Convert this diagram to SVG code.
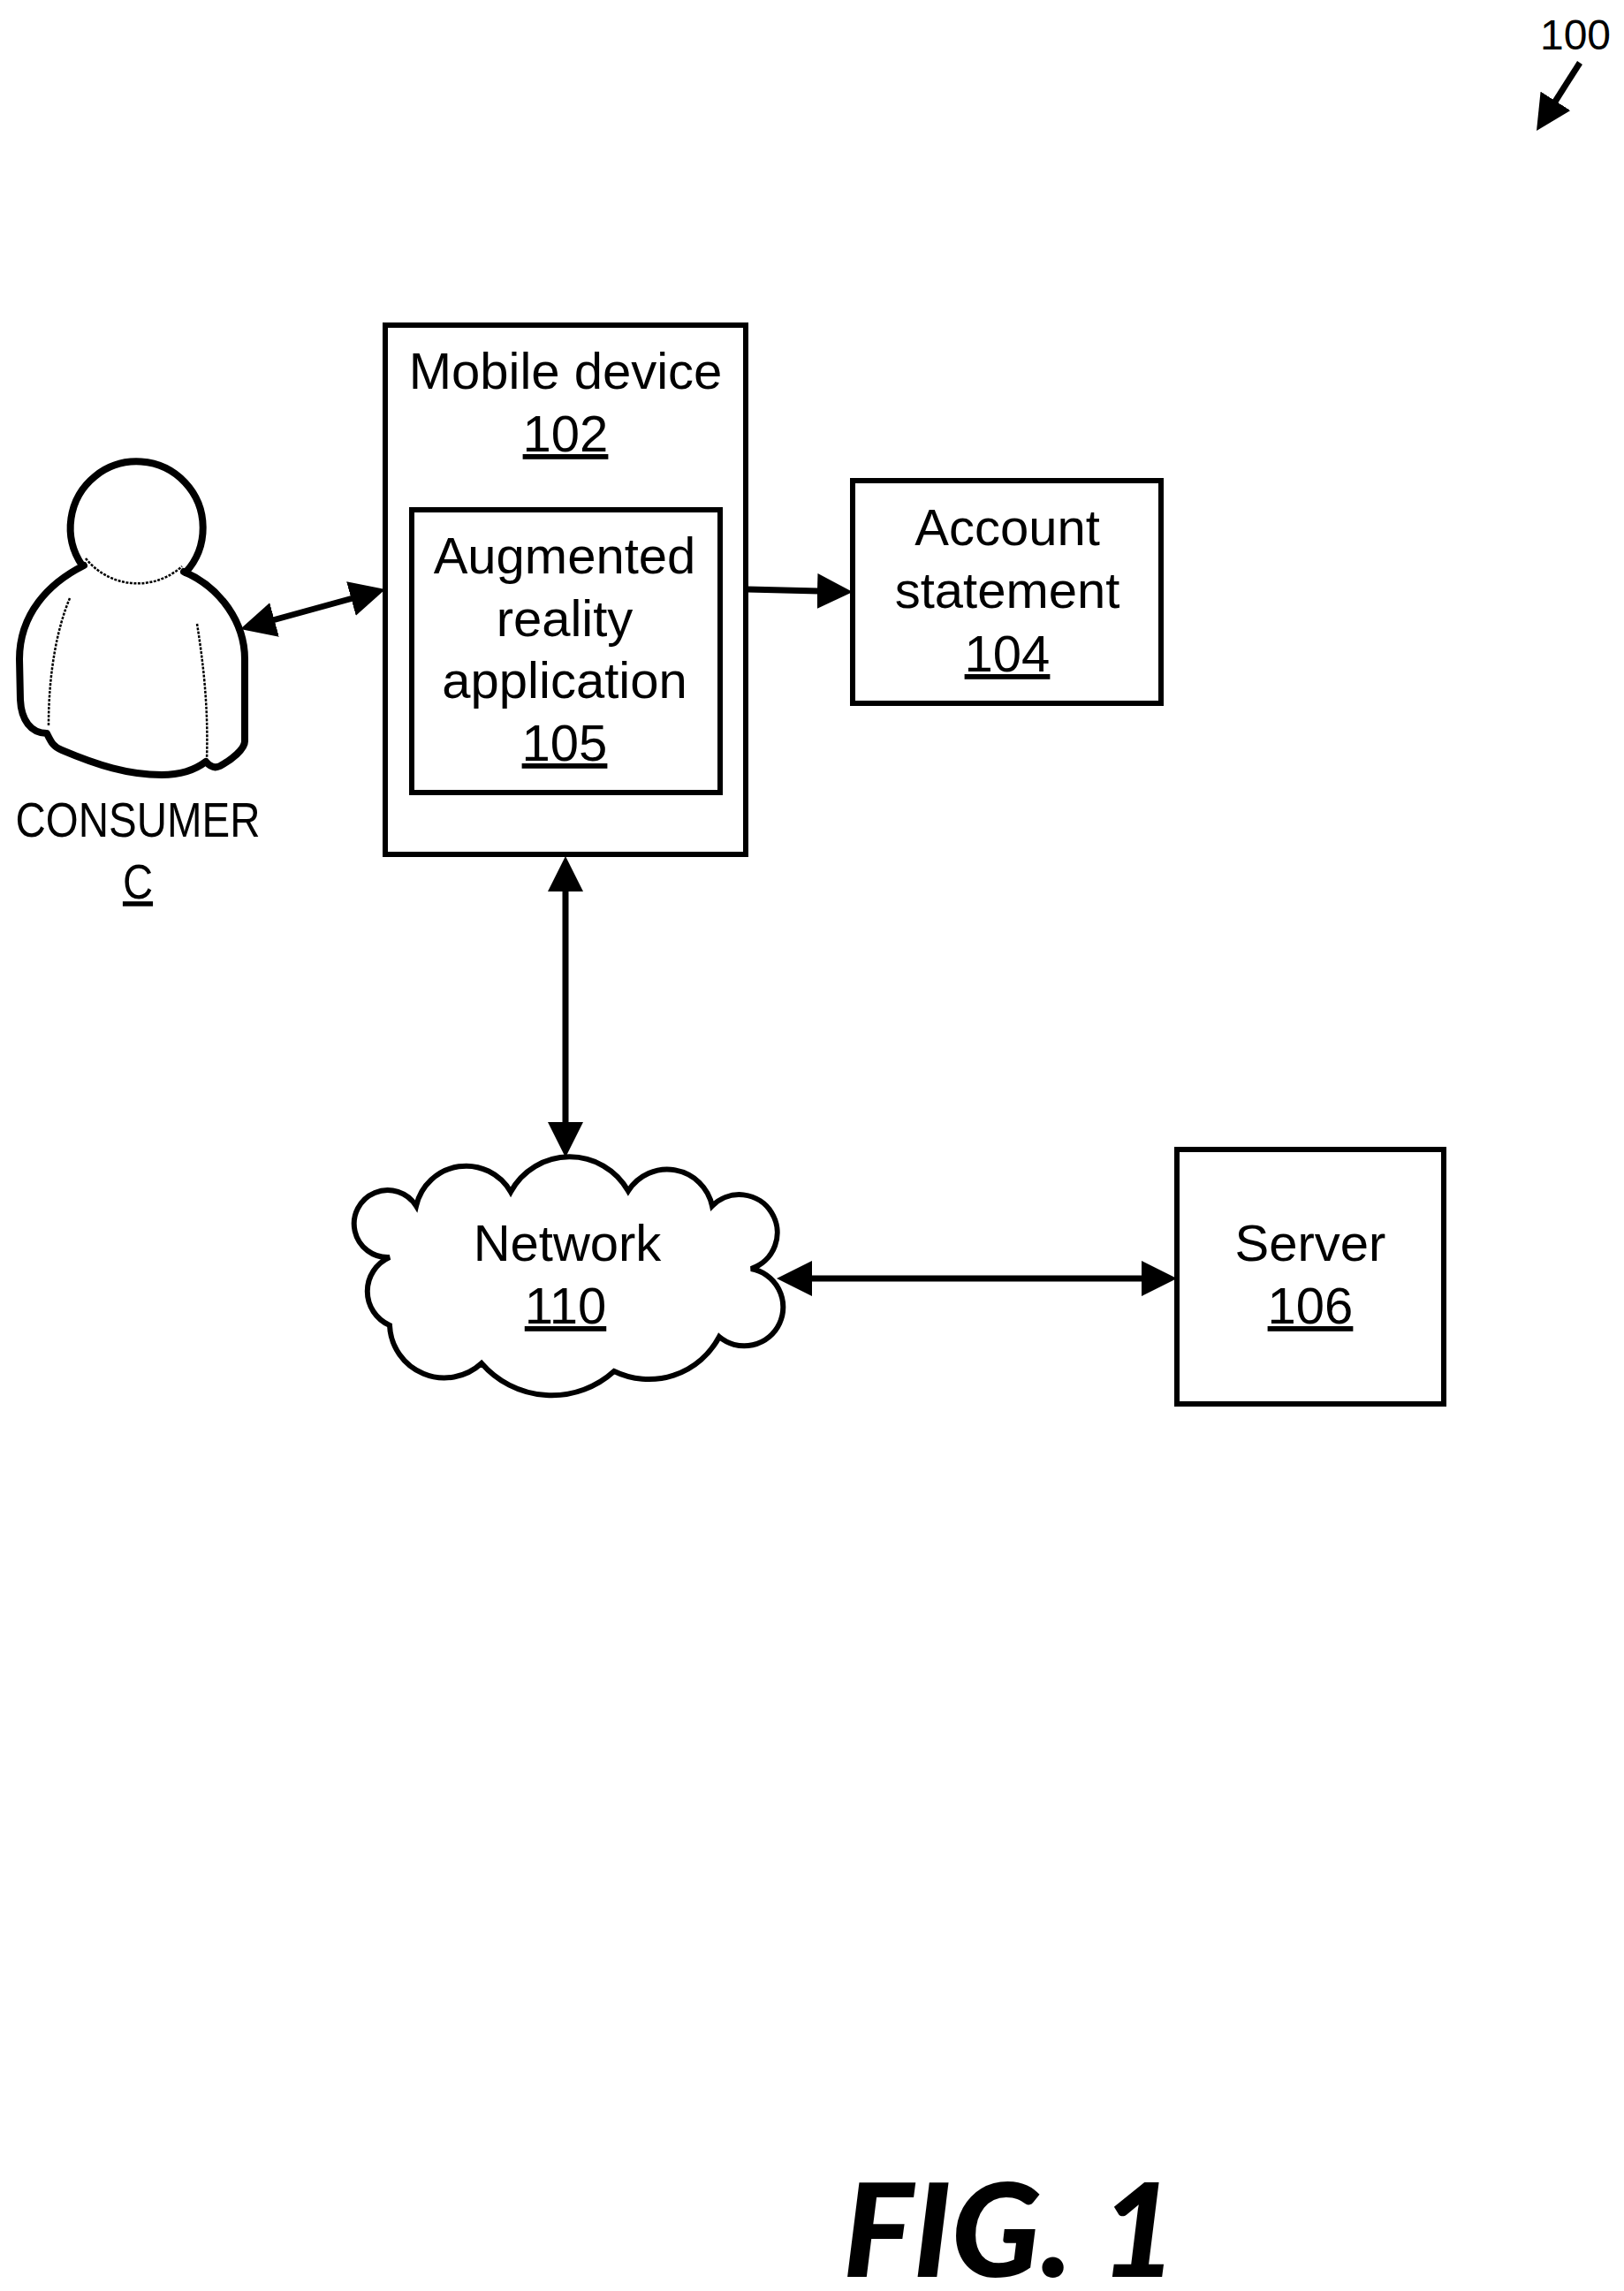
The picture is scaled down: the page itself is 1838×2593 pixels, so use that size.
<svg xmlns="http://www.w3.org/2000/svg" width="1838" height="2593" viewBox="0 0 1838 2593">
<style>
text{font-family:"Liberation Sans",Arial,sans-serif;font-size:58px;fill:#000;text-anchor:middle}
.u{text-decoration:underline}
.box{fill:#fff;stroke:#000;stroke-width:6}
.thick{fill:none;stroke:#000;stroke-width:8;stroke-linejoin:round;stroke-linecap:round}
.thin{fill:none;stroke:#000;stroke-width:2.5;stroke-dasharray:3 1.5}
.conn{fill:none;stroke:#000;stroke-width:7}
.fig{font-family:"Lato","Open Sans",sans-serif;font-weight:900;font-style:italic;font-size:146px}
</style>
<defs>
<marker id="ah" markerUnits="userSpaceOnUse" viewBox="0 0 40 40" markerWidth="40" markerHeight="40" refX="2" refY="20" orient="auto-start-reverse"><path d="M0 0L40 20L0 40z" fill="#000"/></marker>
</defs>
<rect width="1838" height="2593" fill="#fff"/>
<g id="connectors">
<line class="conn" x1="308.600" y1="702" x2="399.400" y2="677" marker-start="url(#ah)" marker-end="url(#ah)"/>
<line class="conn" x1="846" y1="667" x2="927" y2="669" marker-end="url(#ah)"/>
<line class="conn" x1="640" y1="1007" x2="640" y2="1272" marker-start="url(#ah)" marker-end="url(#ah)"/>
<line class="conn" x1="917" y1="1447" x2="1294" y2="1447" marker-start="url(#ah)" marker-end="url(#ah)"/>
<line class="conn" x1="1788" y1="71" x2="1759.400" y2="116" marker-end="url(#ah)"/>
</g>
<g id="ref-100"><text x="1783" y="56" style="font-size:48px">100</text></g>
<g id="consumer">
<path class="thick" d="M93 640A75 75 0 1 1 210 648"/>
<path class="thin" d="M97 632A75 75 0 0 0 206 641"/>
<path class="thick" d="M95 640C55 660 22 695 22 746L23 792C24 815 35 830 53 830C58 840 60 845 70 849C110 866 145 877 183 877C205 877 220 872 233 862C238 868 243 870 249 867C262 860 277 848 277 839L277 746C277 705 250 665 208 647"/>
<path class="thin" d="M79 677C65 710 55 760 55 821"/>
<path class="thin" d="M223 706C230 750 236 800 234 860"/>
<text x="156" y="947" textLength="277" lengthAdjust="spacingAndGlyphs" style="font-size:55px">CONSUMER</text>
<text x="156" y="1017" class="u" style="font-size:55px" transform="translate(156 0) scale(.86 1) translate(-156 0)">C</text>
</g>
<g id="mobile-device">
<rect class="box" x="436" y="368" width="408" height="599"/>
<text x="640" y="440">Mobile device</text>
<text x="640" y="511" class="u">102</text>
</g>
<g id="ar-application">
<rect class="box" x="466" y="577" width="349" height="320"/>
<text x="639" y="649">Augmented</text>
<text x="639" y="720">reality</text>
<text x="639" y="790">application</text>
<text x="639" y="861" class="u">105</text>
</g>
<g id="account-statement">
<rect class="box" x="965" y="544" width="349" height="252"/>
<text x="1140" y="617">Account</text>
<text x="1140" y="688">statement</text>
<text x="1140" y="760" class="u">104</text>
</g>
<g id="network">
<path class="box" d="M471 1365A58 58 0 0 1 578 1349A76 76 0 0 1 711 1348A52 52 0 0 1 806 1365A43 43 0 1 1 850 1436A44 44 0 1 1 814 1513A90 90 0 0 1 695 1552A105 105 0 0 1 545 1543A62 62 0 0 1 441 1500A42 42 0 0 1 441 1423A38 38 0 1 1 471 1365z"/>
<text x="642" y="1427">Network</text>
<text x="640" y="1498" class="u">110</text>
</g>
<g id="server">
<rect class="box" x="1332" y="1301" width="302" height="288"/>
<text x="1483" y="1427">Server</text>
<text x="1483" y="1498" class="u">106</text>
</g>
<g id="figure-label"><text x="1143" y="2577" class="fig" textLength="378" lengthAdjust="spacingAndGlyphs">FIG. 1</text></g>
</svg>
